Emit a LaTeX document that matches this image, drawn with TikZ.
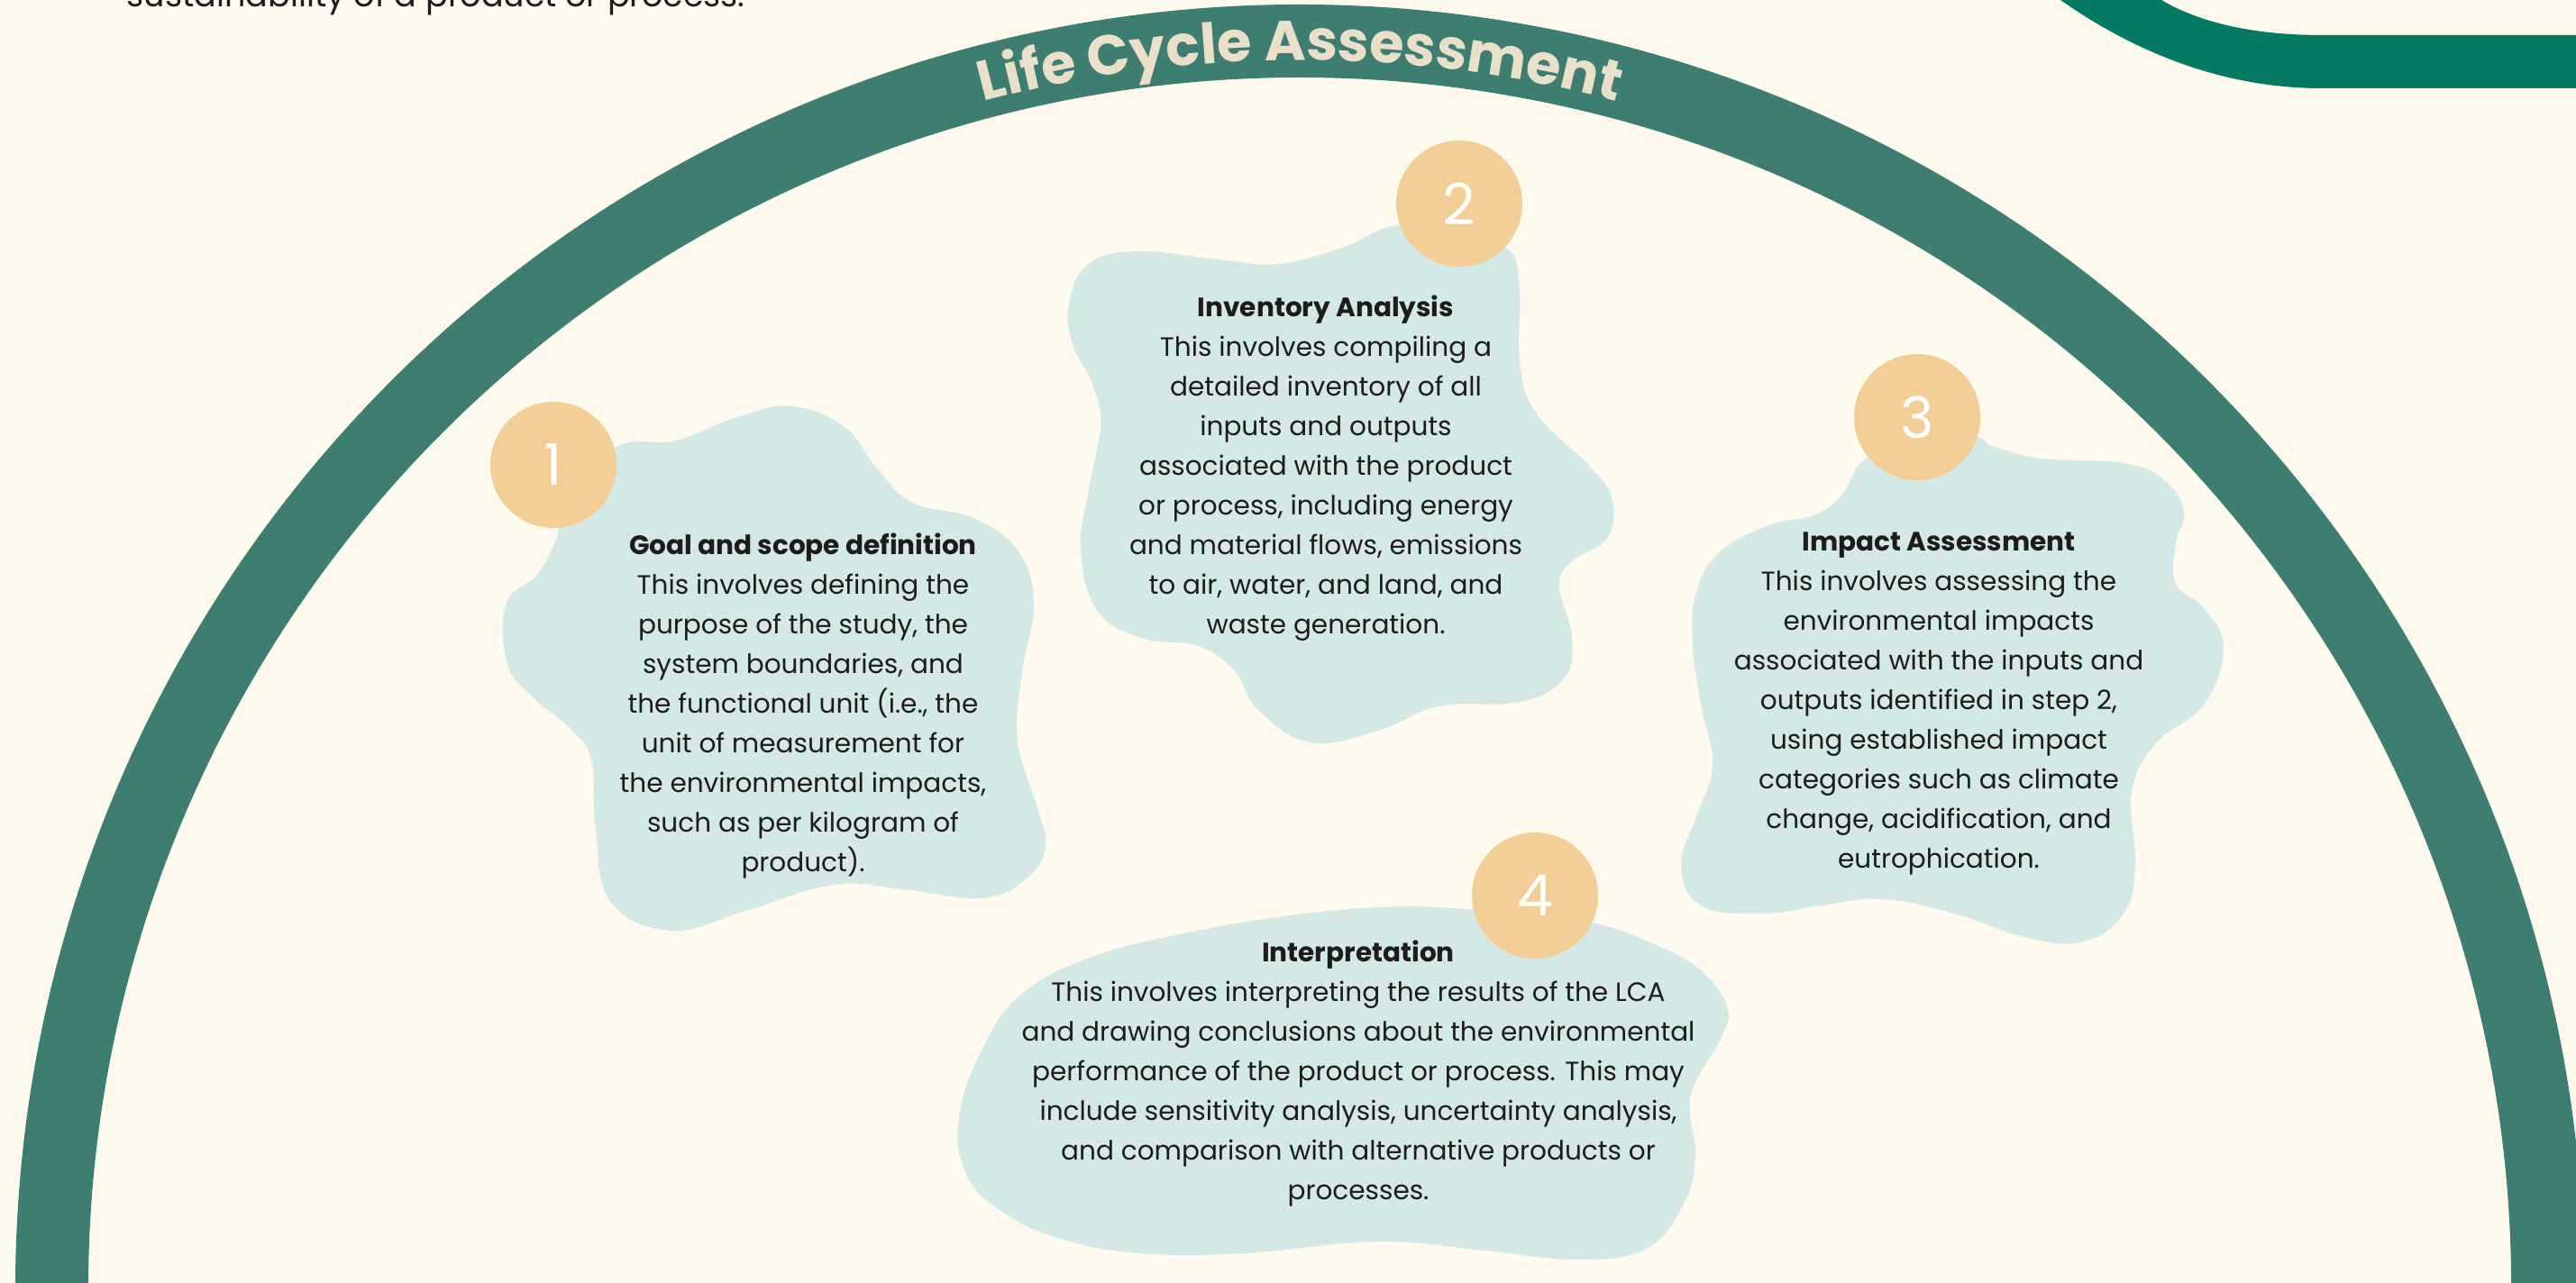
\documentclass[tikz,border=0pt]{standalone}
\usepackage{fontspec}
\setmainfont{Poppins}
\usetikzlibrary{decorations.text}
\definecolor{lcaBg}{HTML}{FEFBEE}
\definecolor{lcaTeal}{HTML}{3D7D72}
\definecolor{lcaGreen}{HTML}{047A62}
\definecolor{lcaBlob}{HTML}{D4E9E5}
\definecolor{lcaPeach}{HTML}{F2CE96}
\definecolor{lcaCream}{HTML}{EAE0C8}
\definecolor{lcaInk}{HTML}{1C1C1C}

\begin{document}
\begin{tikzpicture}
   \tikzstyle{blob}=[fill=lcaBlob]
   \tikzstyle{stepdot}=[circle, fill=lcaPeach, minimum size=1.4cm, inner sep=0pt, text=white, font=\fontsize{18}{18}\selectfont]
   \tikzstyle{stepbody}=[align=center, anchor=north, inner sep=0pt, text=lcaInk, font=\fontsize{8.4}{12.52}\selectfont]
   \tikzstyle{band}=[line width=0.81cm, lcaTeal]

\useasboundingbox (0,0) rectangle (28.58,14.24);
\clip (0,0) rectangle (28.58,14.24);
\fill[lcaBg] (0,0) rectangle (28.58,14.24);

\node[anchor=base west, inner sep=0pt, text=lcaInk, font=\fontsize{10.4}{12}\selectfont] (intro) at (1.40,14.16) {sustainability of a product or process.};

\fill[lcaGreen] (22.86,14.30) -- (22.86,14.24) .. controls (23.50,13.79) and (24.50,13.26) .. (25.76,13.26)
    -- (28.60,13.26) -- (28.60,13.85) -- (25.76,13.85) .. controls (25.00,13.85) and (24.40,13.99) .. (23.98,14.24) -- (23.98,14.30) -- cycle;

\coordinate (arcC) at (14.42,-0.06);
\draw[band] ([shift={(-5:13.845)}]arcC) arc[start angle=-5, end angle=185, radius=13.845];
\path[decorate, decoration={text along path, text align=center, text color=lcaCream,
    text={|\bfseries\fontsize{17.7}{17.7}\selectfont|Life Cycle Assessment}}]
    ([shift={(150:13.63)}]arcC) arc[start angle=150, end angle=30, radius=13.63];

\fill[blob] plot[smooth cycle, tension=0.7] coordinates {(6.83,9.27) (7.50,9.35) (8.21,9.62) (8.79,9.73) (9.37,9.50) (9.73,9.04) (10.13,8.66) (10.80,8.49) (11.29,8.13) (11.47,7.55) (11.34,6.79) (11.29,6.02) (11.50,5.30) (11.60,4.85) (11.40,4.50) (10.90,4.27) (10.02,4.37) (9.25,4.42) (8.30,4.14) (7.45,3.91) (6.77,4.24) (6.61,5.04) (6.56,5.80) (6.34,6.14) (5.89,6.52) (5.62,6.90) (5.62,7.55) (5.95,7.85) (6.15,8.20) (6.30,8.60)};
\fill[blob] plot[smooth cycle, tension=0.7] coordinates {(15.52,11.74) (14.89,11.49) (14.18,11.31) (13.51,11.36) (12.62,11.45) (12.08,11.31) (11.86,10.87) (11.90,10.42) (12.12,9.97) (12.21,9.53) (12.08,8.81) (11.99,8.14) (12.17,7.47) (12.66,7.16) (13.29,7.07) (13.69,6.80) (13.96,6.36) (14.54,6.00) (15.29,6.13) (15.96,6.40) (16.86,6.45) (17.35,6.71) (17.44,7.16) (17.30,7.74) (17.44,8.01) (17.84,8.28) (17.88,8.72) (17.62,9.08) (17.04,9.66) (16.86,10.24) (16.86,11.04) (16.72,11.49) (16.19,11.60)};
\fill[blob] plot[smooth cycle, tension=0.7] coordinates {(20.70,9.15) (20.43,8.74) (20.12,8.52) (19.63,8.41) (19.09,8.12) (18.82,7.67) (18.78,7.09) (18.87,6.42) (19.00,5.75) (18.82,5.17) (18.65,4.64) (18.87,4.19) (19.54,4.10) (20.21,4.19) (20.88,4.26) (21.68,4.10) (22.49,3.83) (23.11,3.79) (23.56,4.10) (23.69,4.64) (23.65,5.44) (23.91,5.98) (24.45,6.42) (24.67,7.05) (24.45,7.49) (24.14,7.76) (24.14,8.21) (24.23,8.57) (24.00,8.92) (23.56,9.10) (22.66,9.15) (22.13,9.28) (21.90,9.39) (21.27,9.30)};
\fill[blob] plot[smooth cycle, tension=0.7] coordinates {(16.34,4.14) (15.29,4.17) (14.11,4.05) (12.94,3.84) (12.06,3.60) (11.36,3.23) (10.95,2.70) (10.65,1.90) (10.71,1.23) (11.12,0.79) (11.77,0.49) (12.65,0.33) (13.82,0.33) (15.29,0.46) (16.46,0.36) (17.52,0.26) (18.28,0.39) (18.69,0.90) (18.81,1.40) (18.75,1.90) (18.81,2.23) (19.10,2.73) (19.16,3.07) (18.87,3.47) (18.40,3.74) (17.69,3.99) (17.03,4.00)};

\node[stepdot] (n1) at (6.14,9.08) {1};
\node[stepdot] (n2) at (16.19,11.98) {2};
\node[stepdot] (n3) at (21.27,9.61) {3};
\node[stepdot] (n4) at (17.03,4.30) {4};

\node[stepbody] (goal) at (8.91,8.33) {\textbf{Goal and scope definition}\\
    This involves defining the\\ purpose of the study, the\\ system boundaries, and\\
    the functional unit (i.e., the\\ unit of measurement for\\ the environmental impacts,\\
    such as per kilogram of\\ product).};
\node[stepbody] (inventory) at (14.71,10.97) {\textbf{Inventory Analysis}\\
    This involves compiling a\\ detailed inventory of all\\ inputs and outputs\\
    associated with the product\\ or process, including energy\\ and material flows, emissions\\
    to air, water, and land, and\\ waste generation.};
\node[stepbody] (impact) at (21.51,8.34) {\textbf{Impact Assessment}\\
    This involves assessing the\\ environmental impacts\\ associated with the inputs and\\
    outputs identified in step 2,\\ using established impact\\ categories such as climate\\
    change, acidification, and\\ eutrophication.};
\node[stepbody] (interp) at (15.07,3.81) {\textbf{Interpretation}\\
    This involves interpreting the results of the LCA\\ and drawing conclusions about the environmental\\
    performance of the product or process. This may\\ include sensitivity analysis, uncertainty analysis,\\
    and comparison with alternative products or\\ processes.};

\end{tikzpicture}
\end{document}
